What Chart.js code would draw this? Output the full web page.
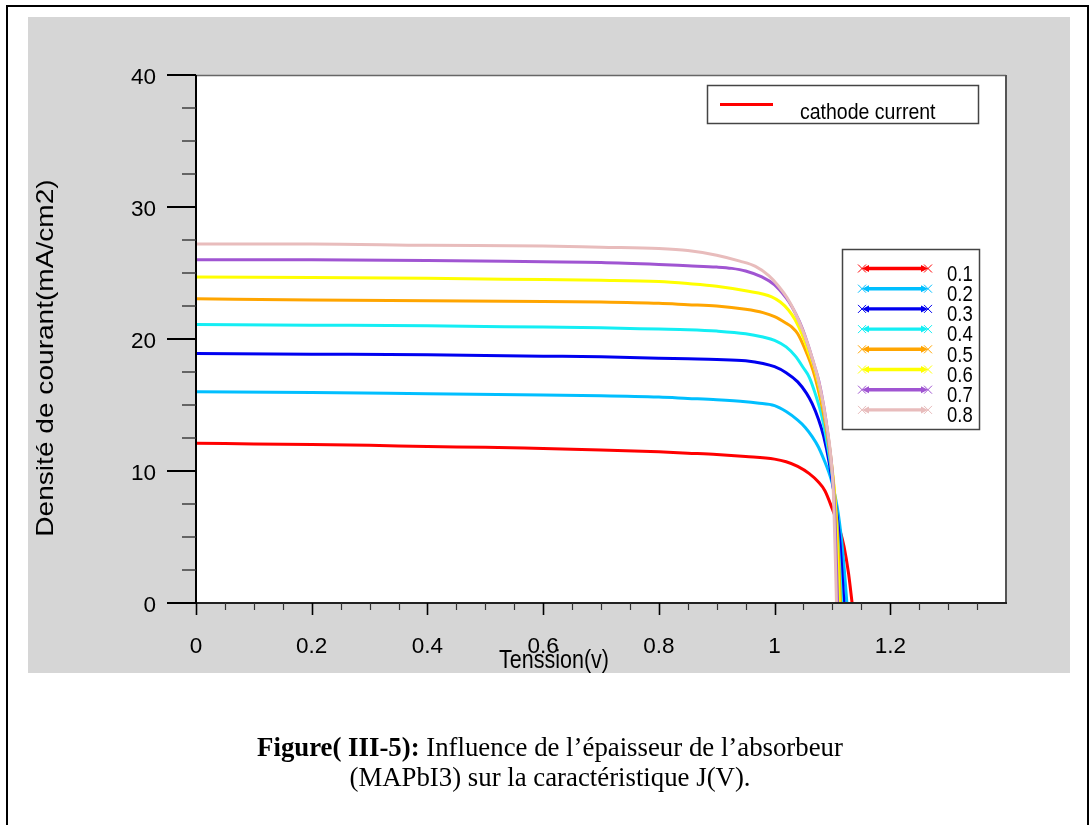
<!DOCTYPE html>
<html><head><meta charset="utf-8">
<script src="https://cdn.jsdelivr.net/npm/chart.js@4.4.1/dist/chart.umd.min.js"></script>
<style>
html,body{margin:0;padding:0;background:#fff;}
#wrap{position:relative;width:1090px;height:825px;overflow:hidden;}
#frame{position:absolute;left:6px;top:5px;width:1083px;height:840px;border:2px solid #000;box-sizing:border-box;}
canvas{position:absolute;left:0;top:0;}
.cap{position:absolute;left:0;width:1100px;text-align:center;font-family:'Liberation Serif','Times New Roman',serif;font-size:26.8px;color:#000;white-space:nowrap;line-height:30px;}
</style></head>
<body><div id="wrap"><div id="frame"></div><canvas id="c" width="1090" height="825"></canvas>
<div class="cap" style="top:732px"><b>Figure( III-5):</b> Influence de l’épaisseur de l’absorbeur</div>
<div class="cap" style="top:762px">(MAPbI3) sur la caractéristique J(V).</div>
</div>
<script>
// Absorber thickness (µm) — series labels
const thickness = ['0.1','0.2','0.3','0.4','0.5','0.6','0.7','0.8'];
// Tension (V) and current density (mA/cm2) for each thickness
const v01 = [0, 0.1, 0.2, 0.3, 0.4, 0.5, 0.6, 0.7, 0.8, 0.85, 0.9, 0.95, 1.0, 1.02, 1.04, 1.06, 1.075, 1.087, 1.1, 1.113, 1.12, 1.128, 1.134];
const j01 = [12.1, 12.05, 12.0, 11.95, 11.85, 11.8, 11.7, 11.6, 11.45, 11.35, 11.25, 11.1, 10.9, 10.7, 10.35, 9.8, 9.2, 8.5, 7.1, 5.5, 4.3, 2.2, 0];
const v02 = [0, 0.2, 0.4, 0.6, 0.7, 0.8, 0.85, 0.9, 0.95, 0.97, 1.0, 1.02, 1.04, 1.053, 1.065, 1.076, 1.085, 1.093, 1.1, 1.11, 1.118, 1.125];
const j02 = [16.0, 15.95, 15.85, 15.75, 15.7, 15.6, 15.5, 15.4, 15.25, 15.15, 14.95, 14.5, 13.85, 13.3, 12.6, 11.8, 10.9, 10.0, 9.0, 6.8, 3.8, 0];
const v03 = [0, 0.2, 0.4, 0.6, 0.7, 0.8, 0.85, 0.9, 0.95, 0.98, 1.0, 1.02, 1.04, 1.055, 1.065, 1.076, 1.085, 1.095, 1.105, 1.113, 1.12];
const j03 = [18.9, 18.85, 18.8, 18.7, 18.65, 18.55, 18.5, 18.45, 18.35, 18.15, 17.9, 17.45, 16.75, 15.9, 15.1, 13.9, 12.6, 10.5, 7.6, 4.6, 0];
const v04 = [0, 0.2, 0.4, 0.6, 0.7, 0.8, 0.85, 0.9, 0.95, 0.98, 1.0, 1.02, 1.036, 1.05, 1.06, 1.07, 1.082, 1.09, 1.1, 1.108, 1.116];
const j04 = [21.1, 21.05, 21.0, 20.9, 20.85, 20.75, 20.7, 20.6, 20.4, 20.15, 19.9, 19.4, 18.7, 17.8, 17.1, 15.9, 14.1, 12.3, 9.5, 6.0, 0];
const v05 = [0, 0.2, 0.4, 0.6, 0.7, 0.8, 0.85, 0.9, 0.95, 0.98, 1.0, 1.02, 1.03, 1.04, 1.053, 1.062, 1.07, 1.08, 1.09, 1.1, 1.107, 1.114];
const j05 = [23.05, 22.95, 22.9, 22.85, 22.8, 22.7, 22.6, 22.5, 22.25, 22.0, 21.7, 21.2, 20.9, 20.4, 19.2, 18.2, 17.1, 15.3, 13.0, 9.8, 6.5, 0];
const v06 = [0, 0.2, 0.4, 0.6, 0.7, 0.8, 0.85, 0.9, 0.95, 0.995, 1.01, 1.024, 1.035, 1.047, 1.058, 1.07, 1.08, 1.09, 1.1, 1.105, 1.112];
const j06 = [24.7, 24.65, 24.6, 24.5, 24.45, 24.35, 24.2, 24.0, 23.65, 23.2, 22.8, 22.2, 21.5, 20.4, 19.1, 17.6, 15.8, 13.4, 10.0, 7.5, 0];
const v07 = [0, 0.2, 0.4, 0.6, 0.7, 0.8, 0.85, 0.9, 0.926, 0.95, 0.978, 1.0, 1.013, 1.025, 1.036, 1.048, 1.059, 1.068, 1.076, 1.085, 1.093, 1.1, 1.104, 1.109];
const j07 = [26.0, 26.0, 25.95, 25.85, 25.8, 25.65, 25.55, 25.45, 25.35, 25.15, 24.7, 24.1, 23.5, 22.8, 21.95, 20.8, 19.4, 18.1, 16.9, 14.9, 12.5, 9.8, 7.0, 0];
const v08 = [0, 0.2, 0.4, 0.6, 0.7, 0.8, 0.85, 0.9, 0.94, 0.967, 0.99, 1.007, 1.022, 1.036, 1.05, 1.064, 1.074, 1.082, 1.09, 1.097, 1.102, 1.107];
const j08 = [27.2, 27.2, 27.1, 27.05, 26.95, 26.85, 26.7, 26.35, 25.9, 25.5, 24.8, 24.0, 23.1, 21.95, 20.5, 18.7, 17.2, 15.6, 13.5, 11.2, 8.0, 0];
// Axis tick labels
const xTickLabels = ['0','0.2','0.4','0.6','0.8','1','1.2'];
const yTickLabels = ['0','10','20','30','40'];

const colors = ['#ff0000','#00bfff','#0000f0','#14eef4','#ffa500','#ffff00','#a055d2','#e8bcbc'];
const series = [[v01,j01],[v02,j02],[v03,j03],[v04,j04],[v05,j05],[v06,j06],[v07,j07],[v08,j08]];
const TICKFONT = "'Liberation Sans',Arial,sans-serif";
const SANS = "'Liberation Sans',Arial,sans-serif";

const datasets = thickness.map((t,i)=>({
  label: t,
  data: series[i][0].map((v,k)=>({x:v, y:series[i][1][k]})),
  borderColor: colors[i],
  backgroundColor: colors[i],
  borderWidth: 3,
  pointRadius: 0,
  fill: false,
  cubicInterpolationMode: 'monotone',
  order: 8 - i
}));

const deco = {
  id: 'deco',
  beforeDraw(chart){
    const ctx = chart.ctx, a = chart.chartArea;
    ctx.save();
    ctx.fillStyle = '#d6d6d6';
    ctx.fillRect(28, 17, 1042, 656);
    ctx.fillStyle = '#ffffff';
    ctx.fillRect(a.left, a.top, a.right - a.left, a.bottom - a.top);
    ctx.restore();
  },
  afterDraw(chart){
    const ctx = chart.ctx, a = chart.chartArea;
    const xs = chart.scales.x, ys = chart.scales.y;
    ctx.save();
    // frame
    ctx.lineCap = 'butt';
    ctx.strokeStyle = '#666'; ctx.lineWidth = 1.5;
    ctx.beginPath(); ctx.moveTo(a.left, a.top + 0.5); ctx.lineTo(a.right, a.top + 0.5); ctx.stroke();
    ctx.strokeStyle = '#555'; ctx.lineWidth = 2;
    ctx.beginPath(); ctx.moveTo(a.right, a.top); ctx.lineTo(a.right, a.bottom); ctx.stroke();
    ctx.strokeStyle = '#222'; ctx.lineWidth = 2;
    ctx.beginPath(); ctx.moveTo(a.left, a.bottom); ctx.lineTo(a.right + 1, a.bottom); ctx.stroke();
    ctx.strokeStyle = '#000'; ctx.lineWidth = 2;
    ctx.beginPath(); ctx.moveTo(a.left, a.top); ctx.lineTo(a.left, a.bottom + 1); ctx.stroke();
    // x ticks
    xs.ticks.forEach(t => {
      if (t.value > 1.39) return;
      const px = Math.round(xs.getPixelForValue(t.value)) + 0.5;
      const major = Math.round(t.value * 100) % 20 === 0;
      ctx.strokeStyle = major ? '#000' : '#333';
      ctx.lineWidth = major ? 1.6 : 1.2;
      ctx.beginPath(); ctx.moveTo(px, a.bottom); ctx.lineTo(px, a.bottom + (major ? 12 : 7)); ctx.stroke();
    });
    // y ticks
    ys.ticks.forEach(t => {
      const py = Math.round(ys.getPixelForValue(t.value));
      const major = Math.round(t.value * 10) % 100 === 0;
      ctx.strokeStyle = major ? '#000' : '#333';
      ctx.lineWidth = major ? 2 : 1.4;
      ctx.beginPath(); ctx.moveTo(a.left - (major ? 29 : 14), py); ctx.lineTo(a.left, py); ctx.stroke();
    });
    // y title
    ctx.fillStyle = '#000';
    ctx.save();
    ctx.translate(46, 358); ctx.rotate(-Math.PI / 2); ctx.scale(1.17, 1);
    ctx.font = "24px " + SANS; ctx.textAlign = 'center'; ctx.textBaseline = 'middle';
    ctx.fillText('Densité de courant(mA/cm2)', 0, 0);
    ctx.restore();
    // x title
    ctx.save();
    ctx.translate(554, 661); ctx.scale(1, 1.17);
    ctx.font = "21.5px " + SANS; ctx.textAlign = 'center'; ctx.textBaseline = 'middle';
    ctx.fillText('Tenssion(v)', 0, 0);
    ctx.restore();
    // legend 1
    ctx.fillStyle = '#fff'; ctx.fillRect(708, 86, 270, 37);
    ctx.strokeStyle = '#444'; ctx.lineWidth = 1.5; ctx.strokeRect(707.5, 85.5, 271, 38);
    ctx.strokeStyle = '#ff0000'; ctx.lineWidth = 3;
    ctx.beginPath(); ctx.moveTo(720, 104.5); ctx.lineTo(773, 104.5); ctx.stroke();
    ctx.save();
    ctx.translate(800, 113); ctx.scale(1, 1.17);
    ctx.fillStyle = '#000'; ctx.font = "19.5px " + SANS; ctx.textAlign = 'left'; ctx.textBaseline = 'middle';
    ctx.fillText('cathode current', 0, 0);
    ctx.restore();
    // legend 2
    ctx.fillStyle = '#fff'; ctx.fillRect(843, 250, 136, 179);
    ctx.strokeStyle = '#444'; ctx.lineWidth = 1.5; ctx.strokeRect(842.5, 249.5, 137, 180);
    chart.data.datasets.forEach((ds, i) => {
      const y = 268.5 + i * 20.2;
      ctx.strokeStyle = ds.borderColor; ctx.fillStyle = ds.borderColor;
      ctx.lineWidth = 3.4;
      ctx.beginPath(); ctx.moveTo(866, y); ctx.lineTo(924, y); ctx.stroke();
      ctx.beginPath(); ctx.moveTo(862, y); ctx.lineTo(869, y - 3.5); ctx.lineTo(869, y + 3.5); ctx.closePath(); ctx.fill();
      ctx.beginPath(); ctx.moveTo(928, y); ctx.lineTo(921, y - 3.5); ctx.lineTo(921, y + 3.5); ctx.closePath(); ctx.fill();
      ctx.lineWidth = 1;
      [862, 928].forEach(cx => {
        ctx.beginPath();
        ctx.moveTo(cx - 4, y - 4); ctx.lineTo(cx + 4, y + 4);
        ctx.moveTo(cx - 4, y + 4); ctx.lineTo(cx + 4, y - 4);
        ctx.stroke();
      });
      ctx.save();
      ctx.translate(947, y + 6); ctx.scale(1, 1.22);
      ctx.fillStyle = '#000'; ctx.font = "18.5px " + SANS; ctx.textAlign = 'left'; ctx.textBaseline = 'middle';
      ctx.fillText(ds.label, 0, 0);
      ctx.restore();
    });
    ctx.restore();
  }
};

new Chart(document.getElementById('c'), {
  type: 'line',
  data: { datasets },
  options: {
    responsive: false,
    animation: false,
    layout: { padding: { left: 0, top: 75, right: 84, bottom: 0 } },
    plugins: { legend: { display: false }, tooltip: { enabled: false }, title: { display: false } },
    scales: {
      x: {
        type: 'linear', min: 0, max: 1.4,
        grid: { display: false, drawTicks: false }, border: { display: false },
        ticks: {
          stepSize: 0.05, autoSkip: false, maxRotation: 0, minRotation: 0, padding: 30,
          color: '#000', font: { family: TICKFONT, size: 22.5 },
          callback: (v) => { const k = Math.round(v * 100); return (k % 20 === 0 && k / 20 < xTickLabels.length) ? xTickLabels[k / 20] : ''; }
        },
        afterFit: (s) => { s.height = 222; }
      },
      y: {
        type: 'linear', min: 0, max: 40,
        grid: { display: false, drawTicks: false }, border: { display: false },
        ticks: {
          stepSize: 2.5, autoSkip: false, padding: 40, labelOffset: 3,
          color: '#000', font: { family: TICKFONT, size: 22.5 },
          callback: (v) => { const k = Math.round(v * 10); return (k % 100 === 0) ? yTickLabels[k / 100] : ''; }
        },
        afterFit: (s) => { s.width = 196; }
      }
    }
  },
  plugins: [deco]
});
</script>
</body></html>
